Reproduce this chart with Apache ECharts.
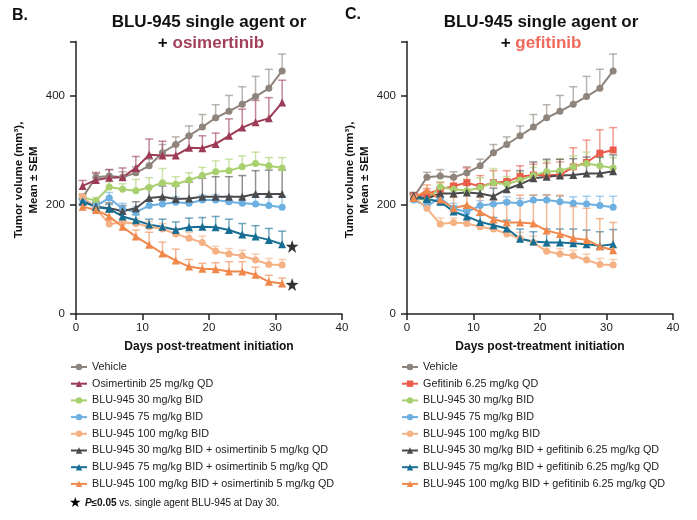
<!DOCTYPE html>
<html><head><meta charset="utf-8">
<script src="https://cdn.jsdelivr.net/npm/echarts@6/dist/echarts.min.js"></script>
<style>html,body{margin:0;padding:0;background:#fff}#c{width:697px;height:520px}</style>
</head><body><div id="c"></div>
<script>
// ---- data ----
const days = [1,3,5,7,9,11,13,15,17,19,21,23,25,27,29,31];
const xTickValues = [0,10,20,30,40];
const yTickLabels = [0,200,400];

const vehicle    = [214,251,253,251,259,272,296,311,327,343,360,372,385,399,414,446];
const vehicleSem = [6,9,12,10,11,12,15,14,18,23,24,29,32,37,35,31];
const blu30      = [214,208,233,229,226,232,241,238,246,254,261,263,270,276,272,268];
const blu30Sem   = [5,6,10,10,21,18,26,14,13,15,20,21,20,21,15,19];
const blu75      = [209,198,213,193,187,199,202,205,203,209,209,206,203,202,199,196];
const blu75Sem   = [6,8,10,10,10,9,8,10,9,9,10,10,12,14,17,20];
const blu100     = [215,194,165,168,166,160,156,147,139,131,115,110,107,99,91,90];
const blu100Sem  = [5,6,11,8,9,10,10,10,11,12,9,10,10,11,11,10];

// panel B (osimertinib)
const osi25      = [235,246,250,251,268,292,291,291,305,304,312,327,342,352,359,388];
const osi25Sem   = [10,12,15,17,21,29,26,20,22,23,20,31,34,40,38,41];
const osiC30     = [206,197,194,189,194,213,215,211,212,215,215,215,215,220,220,220];
const osiC30Sem  = [5,8,10,10,12,20,20,24,30,34,37,37,39,43,44,44];
const osiC75     = [207,196,193,179,172,164,160,154,159,160,159,154,146,142,136,128];
const osiC75Sem  = [5,6,8,9,10,10,14,15,17,17,20,20,20,20,21,24];
const osiC100    = [197,191,179,160,142,127,111,98,87,83,82,78,78,72,59,56];
const osiC100Sem = [5,5,8,10,12,23,21,21,13,10,12,18,18,14,12,10];
const starDays   = [32.5,32.5];
const starValues = [124,54];

// panel C (gefitinib)
const gef        = [216,220,229,235,241,234,241,243,252,255,255,255,270,278,295,301];
const gefSem     = [6,10,12,15,27,20,22,20,20,20,22,24,35,41,43,41];
const gefC30     = [217,212,221,221,223,221,216,229,238,249,252,254,255,258,258,262];
const gefC30Sem  = [6,8,10,10,14,15,15,15,25,30,32,30,30,30,30,30];
const gefC75     = [213,211,206,188,179,169,163,157,138,133,131,131,130,128,125,128];
const gefC75Sem  = [5,6,8,10,12,12,14,15,18,18,25,25,26,26,26,27];
const gefC100    = [213,227,210,194,200,187,174,168,168,166,153,147,139,136,124,117];
const gefC100Sem = [5,10,12,20,25,28,35,40,50,52,65,71,58,58,51,51];

// ---- style ----
const FONT = 'Liberation Sans, Arial, sans-serif';
const C = {veh:'#8e847c', osi:'#9d3a55', b30:'#a9d06e', b75:'#6cafe1', b100:'#f5b184',
           c30:'#4b4b4d', c75:'#176e94', c100:'#f0884c', gef:'#ec5b4a'};

const left = [
  {name:'Vehicle', color:C.veh, sym:'circle', v:vehicle, e:vehicleSem},
  {name:'Osimertinib 25 mg/kg QD', color:C.osi, sym:'triangle', v:osi25, e:osi25Sem},
  {name:'BLU-945 30 mg/kg BID', color:C.b30, sym:'circle', v:blu30, e:blu30Sem},
  {name:'BLU-945 75 mg/kg BID', color:C.b75, sym:'circle', v:blu75, e:blu75Sem},
  {name:'BLU-945 100 mg/kg BID', color:C.b100, sym:'circle', v:blu100, e:blu100Sem},
  {name:'BLU-945 30 mg/kg BID + osimertinib 5 mg/kg QD', color:C.c30, sym:'triangle', v:osiC30, e:osiC30Sem},
  {name:'BLU-945 75 mg/kg BID + osimertinib 5 mg/kg QD', color:C.c75, sym:'triangle', v:osiC75, e:osiC75Sem},
  {name:'BLU-945 100 mg/kg BID + osimertinib 5 mg/kg QD', color:C.c100, sym:'triangle', v:osiC100, e:osiC100Sem}
];
const right = [
  {name:'Vehicle', color:C.veh, sym:'circle', v:vehicle, e:vehicleSem},
  {name:'Gefitinib 6.25 mg/kg QD', color:C.gef, sym:'rect', v:gef, e:gefSem},
  {name:'BLU-945 30 mg/kg BID', color:C.b30, sym:'circle', v:blu30, e:blu30Sem},
  {name:'BLU-945 75 mg/kg BID', color:C.b75, sym:'circle', v:blu75, e:blu75Sem},
  {name:'BLU-945 100 mg/kg BID', color:C.b100, sym:'circle', v:blu100, e:blu100Sem},
  {name:'BLU-945 30 mg/kg BID + gefitinib 6.25 mg/kg QD', color:C.c30, sym:'triangle', v:gefC30, e:gefC30Sem},
  {name:'BLU-945 75 mg/kg BID + gefitinib 6.25 mg/kg QD', color:C.c75, sym:'triangle', v:gefC75, e:gefC75Sem},
  {name:'BLU-945 100 mg/kg BID + gefitinib 6.25 mg/kg QD', color:C.c100, sym:'triangle', v:gefC100, e:gefC100Sem}
];

function errRender(color){
  return function(params, api){
    const x = api.value(0), y = api.value(1), s = api.value(2);
    const p0 = api.coord([x,y]), p1 = api.coord([x,y+s]);
    const st = {stroke:color, lineWidth:1.5, opacity:0.6};
    return {type:'group', children:[
      {type:'line', shape:{x1:p0[0],y1:p0[1],x2:p1[0],y2:p1[1]}, style:st},
      {type:'line', shape:{x1:p1[0]-4,y1:p1[1],x2:p1[0]+4,y2:p1[1]}, style:st}
    ]};
  };
}

const series = [];
[left, right].forEach((set, gi) => {
  set.forEach(s => {
    series.push({type:'custom', name:'err '+s.name+gi, xAxisIndex:gi, yAxisIndex:gi, silent:true, z:1,
      renderItem: errRender(s.color), encode:{x:0,y:1},
      data: days.map((d,i)=>[d, s.v[i], s.e[i]])});
  });
  set.forEach(s => {
    series.push({type:'line', name:s.name, xAxisIndex:gi, yAxisIndex:gi, z:3,
      symbol:s.sym, symbolSize: s.sym==='triangle'?8:(s.sym==='rect'?7:7),
      showAllSymbol:true, color:s.color,
      lineStyle:{width:2, color:s.color}, itemStyle:{color:s.color},
      data: days.map((d,i)=>[d, s.v[i]])});
  });
});
series.push({type:'scatter', name:'star', xAxisIndex:0, yAxisIndex:0, z:4,
  symbol:'path://M12,0 L14.9,8.5 L24,8.6 L16.7,14 L19.4,23 L12,17.6 L4.6,23 L7.3,14 L0,8.6 L9.1,8.5 Z',
  symbolSize:13, itemStyle:{color:'#000'},
  data: starDays.map((d,i)=>[d, starValues[i]])});

function xAx(gi){
  return {type:'value', gridIndex:gi, min:xTickValues[0], max:xTickValues[xTickValues.length-1], interval:10,
    name:'Days post-treatment initiation', nameLocation:'middle', nameGap:27,
    nameTextStyle:{fontFamily:FONT, fontSize:12, fontWeight:'bold', color:'#111'},
    axisLine:{lineStyle:{color:'#222', width:1.5}}, axisTick:{length:6, lineStyle:{color:'#222', width:1.5}},
    axisLabel:{fontFamily:FONT, fontSize:11.5, color:'#222', margin:8}, splitLine:{show:false}};
}
function yAx(gi){
  return {type:'value', gridIndex:gi, min:0, max:500, interval:200,
    axisLine:{show:true, lineStyle:{color:'#222', width:1.5}}, axisTick:{show:true, length:6, lineStyle:{color:'#222', width:1.5}},
    axisLabel:{fontFamily:FONT, fontSize:11.5, color:'#222', margin:11,
      formatter: v => yTickLabels.indexOf(v) >= 0 ? String(v) : ''},
    splitLine:{show:false}};
}
function legendFor(set, x){
  return {data:set.map(s=>s.name), orient:'vertical', left:x, top:361, padding:0,
    itemWidth:16, itemHeight:8, itemGap:4.7, selectedMode:false,
    textStyle:{fontFamily:FONT, fontSize:10.8, color:'#222', lineHeight:12}};
}

const yName = 'Tumor volume (mm³),\nMean ± SEM';
const option = {
  animation:false,
  backgroundColor:'#fff',
  grid:[{left:76, right:355, top:41.5, bottom:206}, {left:407, right:24, top:41.5, bottom:206}],
  xAxis:[xAx(0), xAx(1)],
  yAxis:[yAx(0), yAx(1)],
  legend:[legendFor(left, 70), legendFor(right, 401)],
  series: series,
  graphic:[
    {type:'text', x:12, y:16, style:{text:'B.', font:'bold 16px '+FONT, fill:'#111', textVerticalAlign:'middle'}},
    {type:'text', x:345, y:15, style:{text:'C.', font:'bold 16px '+FONT, fill:'#111', textVerticalAlign:'middle'}},
    {type:'text', x:209, y:22.5, style:{text:'BLU-945 single agent or', font:'bold 17px '+FONT, fill:'#111', textAlign:'center', textVerticalAlign:'middle'}},
    {type:'text', x:211, y:43.5, style:{text:'{a|+ }{b|osimertinib}', textAlign:'center', textVerticalAlign:'middle',
      rich:{a:{fontFamily:FONT, fontSize:17, fontWeight:'bold', fill:'#111'}, b:{fontFamily:FONT, fontSize:17, fontWeight:'bold', fill:'#a2405c'}}}},
    {type:'text', x:541, y:22.5, style:{text:'BLU-945 single agent or', font:'bold 17px '+FONT, fill:'#111', textAlign:'center', textVerticalAlign:'middle'}},
    {type:'text', x:541, y:43.5, style:{text:'{a|+ }{b|gefitinib}', textAlign:'center', textVerticalAlign:'middle',
      rich:{a:{fontFamily:FONT, fontSize:17, fontWeight:'bold', fill:'#111'}, b:{fontFamily:FONT, fontSize:17, fontWeight:'bold', fill:'#ef6a5b'}}}},
    {type:'text', x:26, y:180, rotation:Math.PI/2, style:{text:yName, font:'bold 11.5px '+FONT, fill:'#111', textAlign:'center', textVerticalAlign:'middle', lineHeight:15}},
    {type:'text', x:357, y:180, rotation:Math.PI/2, style:{text:yName, font:'bold 11.5px '+FONT, fill:'#111', textAlign:'center', textVerticalAlign:'middle', lineHeight:15}},
    {type:'text', x:69, y:503, style:{text:'{s|★} {p|P}{b|≤0.05}{n| vs. single agent BLU-945 at Day 30.}', textVerticalAlign:'middle',
      rich:{s:{fontSize:14, fill:'#000', fontFamily:'DejaVu Sans'}, p:{fontFamily:FONT, fontSize:10, fontWeight:'bold', fontStyle:'italic', fill:'#111'},
            b:{fontFamily:FONT, fontSize:10, fontWeight:'bold', fill:'#111'}, n:{fontFamily:FONT, fontSize:10, fill:'#111'}}}}
  ]
};
const chart = echarts.init(document.getElementById('c'), null, {renderer:'canvas'});
chart.setOption(option);
</script>
</body></html>
